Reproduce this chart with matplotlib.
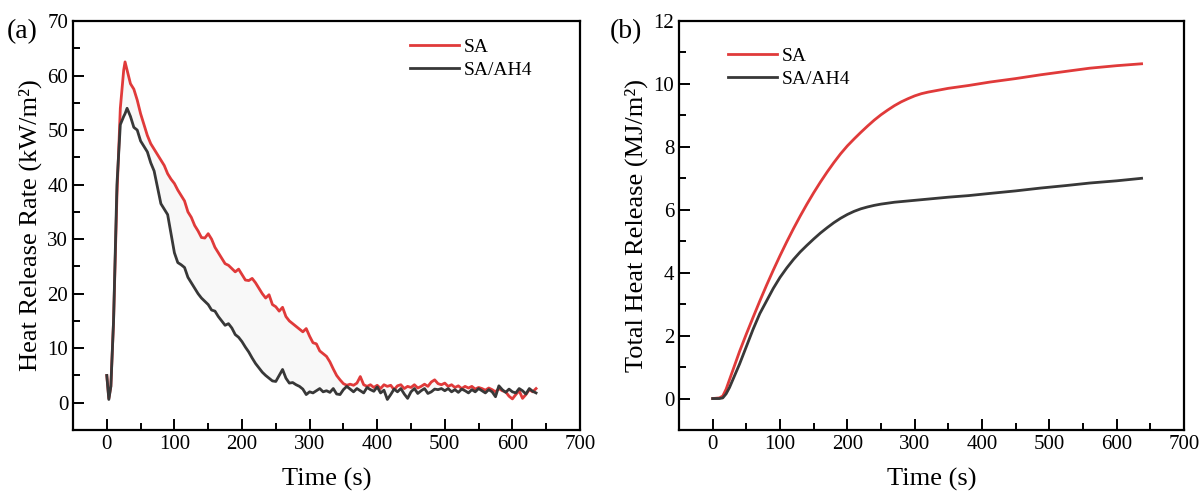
import matplotlib.pyplot as plt
from matplotlib.ticker import MultipleLocator

plt.rcParams['font.family'] = ['Liberation Serif', 'DejaVu Serif']

# heat release rate, (a)
hrr_t = [0, 3, 6, 10, 15, 20, 25, 27, 30, 35, 40, 45, 50, 55, 60, 65, 70, 75, 80, 85,
         90, 95, 100, 105, 110, 115, 120, 125, 130, 135, 140, 145, 150, 155, 160, 165,
         170, 175, 180, 185, 190, 195, 200, 205, 210, 215, 220, 225, 230, 235, 240, 245,
         250, 255, 260, 265, 270, 275, 280, 285, 290, 295, 300, 305, 310, 315, 320, 325,
         330, 335, 340, 345, 350, 355, 360, 365, 370, 375, 380, 385, 390, 395, 400, 405,
         410, 415, 420, 425, 430, 435, 440, 445, 450, 455, 460, 465, 470, 475, 480, 485,
         490, 495, 500, 505, 510, 515, 520, 525, 530, 535, 540, 545, 550, 555, 560, 565,
         570, 575, 580, 585, 590, 595, 600, 605, 610, 615, 620, 625, 630, 635]
hrr_sa = [5.0, 0.8, 3, 15, 38, 54, 61, 62.5, 61, 58.5, 57.5, 55.5, 53, 51, 49, 47.5, 46.5,
          45.5, 44.5, 43.5, 42, 41, 40.2, 39, 38, 37, 35, 34, 32.5, 31.5, 30.3, 30.2, 31,
          30, 28.5, 27.5, 26.5, 25.5, 25.2, 24.6, 24, 24.5, 23.5, 22.5, 22.4, 22.8, 22, 21,
          20, 19.2, 19.8, 18, 17.6, 16.8, 17.5, 15.8, 15, 14.5, 14, 13.5, 13, 13.6, 12.2,
          11, 10.8, 9.5, 9, 8.5, 7.5, 6.2, 5, 4.2, 3.5, 3.2, 3.4, 3.2, 3.6, 4.8, 3.3, 3.0,
          3.3, 2.8, 3.2, 2.6, 3.3, 3.0, 3.2, 2.4, 3.1, 3.3, 2.6, 3.0, 2.8, 3.3, 2.7, 3.0,
          3.4, 3.0, 3.8, 4.2, 3.5, 3.3, 3.6, 3.0, 3.3, 2.8, 3.1, 2.6, 3.0, 2.7, 3.0, 2.5,
          2.8, 2.6, 2.3, 2.7, 2.4, 2.0, 2.6, 2.2, 2.0, 1.2, 0.7, 1.5, 2.2, 0.8, 1.5, 2.4,
          2.0, 2.6]
hrr_ah4 = [5.0, 0.6, 3, 15, 40, 51, 52.5, 53, 54, 52.5, 50.5, 50, 48, 47, 46, 44, 42.5,
           39.5, 36.5, 35.5, 34.5, 31, 27.5, 25.7, 25.3, 24.8, 23, 22, 21, 20, 19.2, 18.6,
           18, 17, 16.8, 15.8, 15, 14.2, 14.5, 13.7, 12.5, 12, 11.2, 10.2, 9.3, 8.2, 7.2,
           6.4, 5.6, 5, 4.5, 4, 3.9, 5, 6.1, 4.5, 3.6, 3.7, 3.3, 3.0, 2.5, 1.5, 2.0, 1.8,
           2.2, 2.6, 2.0, 2.2, 1.9, 2.6, 1.6, 1.5, 2.4, 3.0, 2.5, 2.0, 2.6, 2.2, 1.8, 2.8,
           2.4, 2.1, 2.9, 1.8, 2.3, 0.6, 1.5, 2.5, 2.0, 2.6, 1.6, 0.8, 2.0, 2.6, 1.7, 2.2,
           2.6, 1.7, 2.0, 2.5, 2.4, 2.6, 2.2, 2.6, 2.0, 2.4, 1.9, 2.5, 2.2, 1.8, 2.4, 2.0,
           2.6, 2.2, 1.8, 2.4, 2.0, 1.1, 3.1, 2.4, 1.9, 2.5, 2.0, 1.8, 2.6, 2.2, 1.6, 2.6,
           2.1, 1.8]

# total heat release, (b)
thr_t = [0, 10, 15, 20, 25, 30, 40, 50, 60, 70, 80, 90, 100, 110, 120, 130, 140, 150,
         160, 170, 180, 190, 200, 210, 220, 230, 240, 250, 260, 270, 280, 290, 300, 310,
         320, 330, 340, 350, 380, 412, 450, 487, 525, 560, 600, 637]
thr_sa = [0, 0.02, 0.08, 0.3, 0.6, 0.9, 1.5, 2.05, 2.58, 3.1, 3.6, 4.08, 4.54, 4.98, 5.4,
          5.8, 6.18, 6.54, 6.88, 7.2, 7.5, 7.78, 8.03, 8.25, 8.46, 8.66, 8.85, 9.02, 9.17,
          9.31, 9.43, 9.53, 9.62, 9.69, 9.74, 9.78, 9.82, 9.86, 9.95, 10.06, 10.17, 10.29,
          10.4, 10.5, 10.58, 10.64]
thr_ah4 = [0, 0, 0.02, 0.15, 0.35, 0.6, 1.1, 1.65, 2.2, 2.7, 3.1, 3.5, 3.85, 4.15, 4.42,
           4.66, 4.87, 5.07, 5.26, 5.43, 5.59, 5.73, 5.85, 5.95, 6.03, 6.09, 6.14, 6.18,
           6.21, 6.24, 6.26, 6.28, 6.3, 6.32, 6.34, 6.36, 6.38, 6.4, 6.45, 6.52, 6.6, 6.69,
           6.77, 6.85, 6.92, 7.0]

red = '#e03a3a'
dark = '#383838'

fig = plt.figure(figsize=(12.02, 4.96), dpi=100)
ax1 = fig.add_axes([73 / 1202, 66 / 496, 507 / 1202, 409 / 496])
ax2 = fig.add_axes([679 / 1202, 66 / 496, 505 / 1202, 409 / 496])


def style(ax):
    for s in ax.spines.values():
        s.set_linewidth(1.6)
    ax.tick_params(which='both', direction='in', width=1.4, labelsize=15,
                   top=False, right=False)
    ax.tick_params(which='major', length=8)
    ax.tick_params(which='minor', length=5)
    ax.set_xlim(-50, 700)
    ax.xaxis.set_major_locator(MultipleLocator(100))
    ax.xaxis.set_minor_locator(MultipleLocator(50))
    ax.set_xlabel('Time (s)', fontsize=19, labelpad=10)


ax1.fill_between(hrr_t, hrr_sa, hrr_ah4, color='#f8f8f8', lw=0)
ax1.plot(hrr_t, hrr_sa, color=red, lw=2, label='SA')
ax1.plot(hrr_t, hrr_ah4, color=dark, lw=2, label='SA/AH4')
style(ax1)
ax1.set_ylim(-5, 70)
ax1.yaxis.set_major_locator(MultipleLocator(10))
ax1.yaxis.set_minor_locator(MultipleLocator(5))
ax1.set_ylabel('Heat Release Rate (kW/m²)', fontsize=19)
ax1.legend(loc='upper left', bbox_to_anchor=(0.665, 0.958), frameon=False, fontsize=14,
           borderpad=0, handlelength=2.5, handletextpad=0.25, labelspacing=0.3,
           borderaxespad=0)

ax2.plot(thr_t, thr_sa, color=red, lw=2, label='SA')
ax2.plot(thr_t, thr_ah4, color=dark, lw=2, label='SA/AH4')
style(ax2)
ax2.set_ylim(-1, 12)
ax2.yaxis.set_major_locator(MultipleLocator(2))
ax2.yaxis.set_minor_locator(MultipleLocator(1))
ax2.set_ylabel('Total Heat Release (MJ/m²)', fontsize=19)
ax2.legend(loc='upper left', bbox_to_anchor=(0.097, 0.936), frameon=False, fontsize=14,
           borderpad=0, handlelength=2.5, handletextpad=0.25, labelspacing=0.3,
           borderaxespad=0)

fig.text(7 / 1202, 1 - 38 / 496, '(a)', fontsize=20)
fig.text(610 / 1202, 1 - 38 / 496, '(b)', fontsize=20)

fig.savefig('out.png', dpi=100)
